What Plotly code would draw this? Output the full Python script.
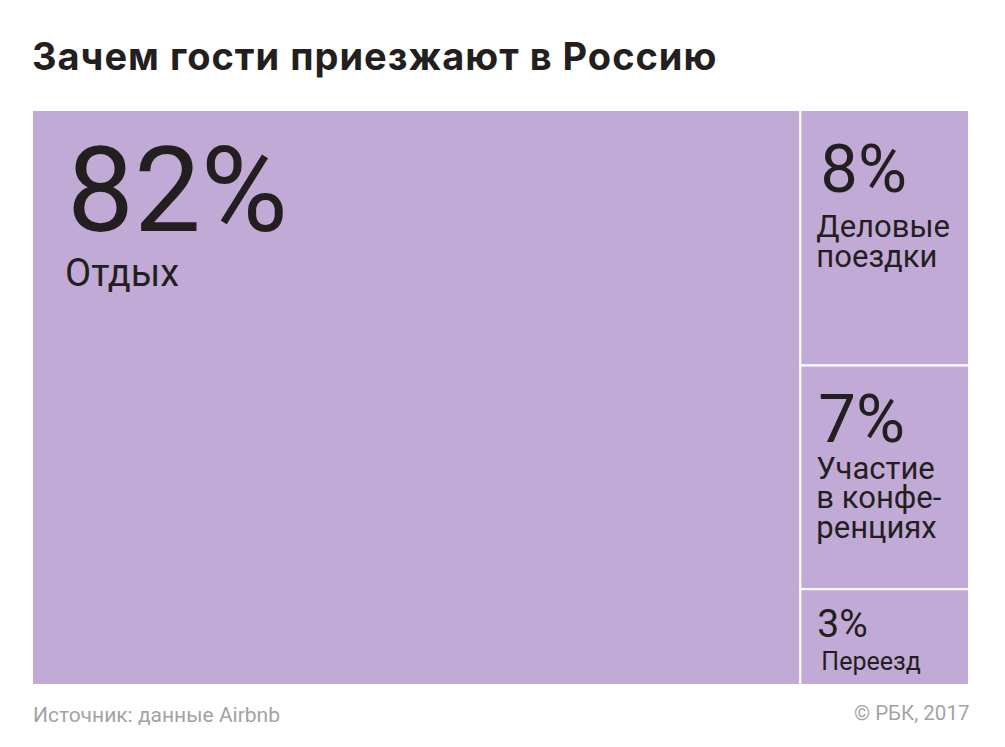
import math
import plotly.graph_objects as go

# ---------------- data ----------------
title_text = "Зачем гости приезжают в Россию"
source_text = "Источник: данные Airbnb"
credit_text = "© РБК, 2017"

root_label = "Всего"
categories = ["Отдых", "Деловые поездки", "Участие в конференциях", "Переезд"]
shares = [82, 8, 7, 3]
label_lines = [["Отдых"], ["Деловые", "поездки"], ["Участие", "в конфе-", "ренциях"], ["Переезд"]]

# ---------------- styles ----------------
FILL = "#c2aad6"
INK = "#231f20"
GREY = "#a3a3a3"
FONT = "Roboto"
TITLE_FONT = "Inter"
OFF = 8  # page body margin in the browser

pct_size = [119, 67, 67, 39]          # px
lab_size = [38, 31, 31, 25]           # px
first_base = [121, 82, 76, 48]        # px from tile top to first baseline
line_gaps = [[55], [44, 31], [36, 30, 29], [33]]
line_step = [55, 15, 7.4, 33]         # base line step per tile
pct_inset = [32, 17, 15, 14]
lab_inset = [30, 13, 13, 18]

ASC, SPACE_W, TEXTPAD = 0.928, 0.2476, 3


def pad(inset, size):
    n = max(1, math.ceil(inset / (SPACE_W * size)))
    return '<span style="font-size:%.2fpx">%s</span>' % (inset / (n * SPACE_W), "\u00a0" * n)


def line(text, size, inset):
    return pad(inset, size) + '<span style="font-size:%.2fpx">%s</span>' % (size, text)


templates = []
bases = []
for i, v in enumerate(shares):
    L = line_step[i]
    d1 = first_base[i]
    k = max(1, math.floor((d1 - TEXTPAD - ASC * 8) / L))
    spacer = (d1 - k * L - TEXTPAD) / ASC
    rows = ['<span style="font-size:%.2fpx">\u00a0</span>' % spacer]
    rows += [""] * (k - 1)
    rows.append(line(f"{v}%", pct_size[i], pct_inset[i]))
    for txt, g in zip(label_lines[i], line_gaps[i]):
        n = max(1, round(g / L))
        rows += [""] * (n - 1)
        rows.append(line(txt, lab_size[i], lab_inset[i]))
    templates.append("<br>".join(rows))
    bases.append(L / 1.3)

W, H = 1005, 747
fig = go.Figure(go.Treemap(
    labels=[root_label] + categories,
    parents=[""] + [root_label] * len(categories),
    values=[sum(shares)] + shares,
    branchvalues="total",
    sort=True,
    marker=dict(colors=[FILL] * (len(categories) + 1),
                line=dict(color="white", width=2),
                pad=dict(t=0, l=0, r=0, b=0),
                depthfade=False),
    tiling=dict(packing="squarify", pad=0),
    pathbar=dict(visible=False),
    texttemplate=[" "] + templates,
    textposition="top left",
    textfont=dict(family=FONT, color=INK, size=[10] + bases),
    hoverinfo="skip",
    domain=dict(x=[(32 - OFF) / W, (969 - OFF) / W],
                y=[1 - (685 - OFF) / H, 1 - (110 - OFF) / H]),
))

fig.update_layout(
    width=W, height=H,
    margin=dict(l=0, r=0, t=0, b=0),
    paper_bgcolor="white",
    font=dict(family=FONT, color=INK),
    title=dict(text='<span style="letter-spacing:1px">%s</span>' % title_text,
               x=(32 - OFF) / W, xanchor="left", xref="paper",
               y=1 - (57 - OFF) / H, yanchor="middle", yref="container",
               font=dict(family=TITLE_FONT, size=38, color=INK, weight=700)),
    annotations=[
        dict(text=source_text, x=(31 - OFF) / W, xanchor="left", xref="paper",
             y=1 - (715 - OFF) / H, yanchor="middle", yref="paper", showarrow=False,
             font=dict(family=FONT, size=21, color=GREY)),
        dict(text=credit_text, x=(971 - OFF) / W, xanchor="right", xref="paper",
             y=1 - (713 - OFF) / H, yanchor="middle", yref="paper", showarrow=False,
             font=dict(family=FONT, size=20.5, color=GREY)),
    ],
)

fig.write_html("out.html")
